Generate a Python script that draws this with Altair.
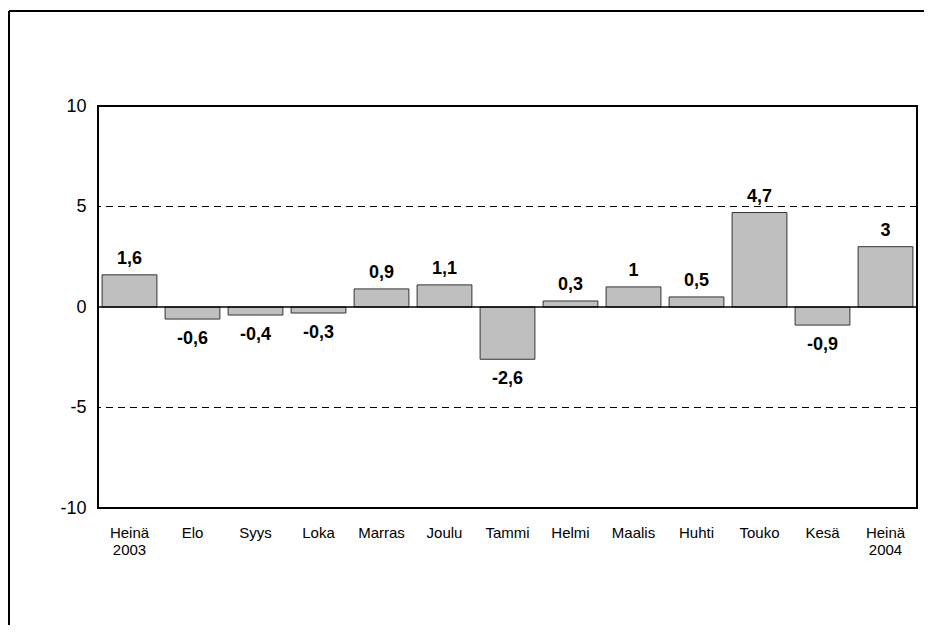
import altair as alt
import pandas as pd

months = ["Heinä|2003", "Elo", "Syys", "Loka", "Marras", "Joulu", "Tammi",
          "Helmi", "Maalis", "Huhti", "Touko", "Kesä", "Heinä|2004"]
values = [1.6, -0.6, -0.4, -0.3, 0.9, 1.1, -2.6, 0.3, 1.0, 0.5, 4.7, -0.9, 3.0]
labels = [f"{v:g}".replace(".", ",") for v in values]
grid_levels = [5, -5]
zero_level = [0]
y_ticks = [-10, -5, 0, 5, 10]

df = pd.DataFrame({"month": months, "value": values, "label": labels})
FONT = "Liberation Sans"

x = alt.X("month:N", sort=months,
          scale=alt.Scale(paddingInner=0.13, paddingOuter=0.065),
          axis=alt.Axis(title=None, labelAngle=0, domain=False, ticks=False,
                        labelPadding=17, labelFontSize=15, labelLineHeight=17,
                        labelExpr="split(datum.label, '|')", labelColor="black",
                        labelFont=FONT))
y = alt.Y("value:Q", scale=alt.Scale(domain=[-10, 10], nice=False, zero=True),
          axis=alt.Axis(values=y_ticks, title=None, grid=False, ticks=False,
                        domain=False, labelPadding=12, labelFontSize=18,
                        labelColor="black", labelFont=FONT,
                        labelExpr="toString(datum.value)"))

bars = alt.Chart(df).mark_bar(color="#bfbfbf", stroke="#333333", strokeWidth=1).encode(
    x=x, y=y)

grid = alt.Chart(pd.DataFrame({"g": grid_levels})).mark_rule(
    color="black", strokeWidth=1, strokeDash=[7, 5]).encode(
    y=alt.Y("g:Q", scale=alt.Scale(domain=[-10, 10], nice=False)))

zero = alt.Chart(pd.DataFrame({"z": zero_level})).mark_rule(
    color="black", strokeWidth=1.6).encode(
    y=alt.Y("z:Q", scale=alt.Scale(domain=[-10, 10], nice=False)))

pos_text = alt.Chart(df).transform_filter("datum.value >= 0").mark_text(
    baseline="alphabetic", dy=-11, fontSize=18, fontWeight="bold",
    font=FONT, color="black").encode(x=alt.X("month:N", sort=months), y="value:Q",
                                     text="label:N")
neg_text = alt.Chart(df).transform_filter("datum.value < 0").mark_text(
    baseline="top", dy=11, fontSize=18, fontWeight="bold",
    font=FONT, color="black").encode(x=alt.X("month:N", sort=months), y="value:Q",
                                     text="label:N")

one = pd.DataFrame({"a": [0]})
frame_top = alt.Chart(one).mark_rule(color="black", strokeWidth=2).encode(
    x=alt.value(-89), x2=alt.value(826), y=alt.value(-95))
frame_left = alt.Chart(one).mark_rule(color="black", strokeWidth=2).encode(
    x=alt.value(-89), y=alt.value(-95), y2=alt.value(519))

chart = alt.layer(grid, bars, zero, pos_text, neg_text, frame_top, frame_left).properties(
    width=819, height=402,
    padding={"left": 0, "top": 2, "right": 0, "bottom": 0},
).configure(font=FONT).configure_view(stroke="black", strokeWidth=2)

chart.save("out.html", embed_options={"renderer": "svg", "actions": False})
